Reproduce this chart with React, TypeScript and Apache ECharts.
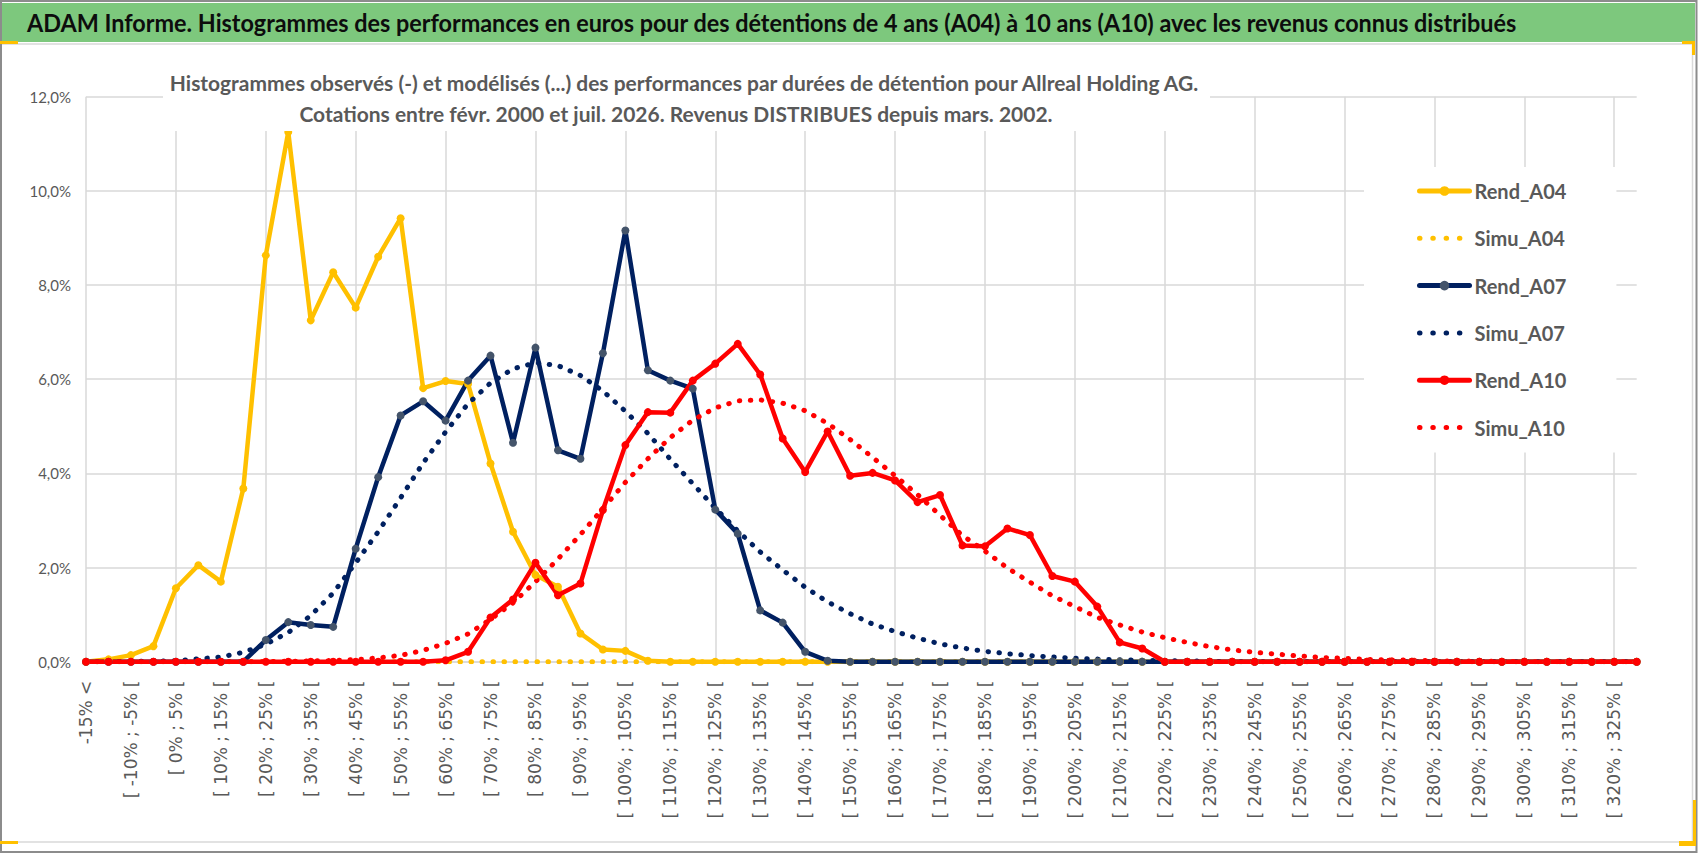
import { useEffect, useRef } from "react";
import * as echarts from "echarts";

const FONT_C = "Lato, 'Open Sans', sans-serif";
const FONT_AXIS = "'DejaVu Sans', sans-serif";

const categories = [
  "-15% <", "[ -15% ; -10% [", "[ -10% ; -5% [", "[ -5% ; 0% [", "[ 0% ; 5% [",
  "[ 5% ; 10% [", "[ 10% ; 15% [", "[ 15% ; 20% [", "[ 20% ; 25% [", "[ 25% ; 30% [",
  "[ 30% ; 35% [", "[ 35% ; 40% [", "[ 40% ; 45% [", "[ 45% ; 50% [", "[ 50% ; 55% [",
  "[ 55% ; 60% [", "[ 60% ; 65% [", "[ 65% ; 70% [", "[ 70% ; 75% [", "[ 75% ; 80% [",
  "[ 80% ; 85% [", "[ 85% ; 90% [", "[ 90% ; 95% [", "[ 95% ; 100% [", "[ 100% ; 105% [",
  "[ 105% ; 110% [", "[ 110% ; 115% [", "[ 115% ; 120% [", "[ 120% ; 125% [", "[ 125% ; 130% [",
  "[ 130% ; 135% [", "[ 135% ; 140% [", "[ 140% ; 145% [", "[ 145% ; 150% [", "[ 150% ; 155% [",
  "[ 155% ; 160% [", "[ 160% ; 165% [", "[ 165% ; 170% [", "[ 170% ; 175% [", "[ 175% ; 180% [",
  "[ 180% ; 185% [", "[ 185% ; 190% [", "[ 190% ; 195% [", "[ 195% ; 200% [", "[ 200% ; 205% [",
  "[ 205% ; 210% [", "[ 210% ; 215% [", "[ 215% ; 220% [", "[ 220% ; 225% [", "[ 225% ; 230% [",
  "[ 230% ; 235% [", "[ 235% ; 240% [", "[ 240% ; 245% [", "[ 245% ; 250% [", "[ 250% ; 255% [",
  "[ 255% ; 260% [", "[ 260% ; 265% [", "[ 265% ; 270% [", "[ 270% ; 275% [", "[ 275% ; 280% [",
  "[ 280% ; 285% [", "[ 285% ; 290% [", "[ 290% ; 295% [", "[ 295% ; 300% [", "[ 300% ; 305% [",
  "[ 305% ; 310% [", "[ 310% ; 315% [", "[ 315% ; 320% [", "[ 320% ; 325% [", "[ 325% ; 330% [",
];

// values in %
const rendA04 = [
  0, 0.05, 0.14, 0.33, 1.56, 2.05, 1.7, 3.68, 8.63, 11.25,
  7.25, 8.27, 7.52, 8.6, 9.42, 5.81, 5.96, 5.9, 4.21, 2.76,
  1.84, 1.59, 0.6, 0.26, 0.23, 0.02, 0, 0, 0, 0,
  0, 0, 0, 0, 0, 0, 0, 0, 0, 0,
  0, 0, 0, 0, 0, 0, 0, 0, 0, 0,
  0, 0, 0, 0, 0, 0, 0, 0, 0, 0,
  0, 0, 0, 0, 0, 0, 0, 0, 0, 0,
];
const simuA04 = [
  0, 0, 0, 0, 0, 0, 0, 0, 0, 0,
  0, 0, 0, 0, 0, 0, 0, 0, 0, 0,
  0, 0, 0, 0, 0, 0, 0, 0, 0, 0,
  0, 0, 0, 0, 0, 0, 0, 0, 0, 0,
  0, 0, 0, 0, 0, 0, 0, 0, 0, 0,
  0, 0, 0, 0, 0, 0, 0, 0, 0, 0,
  0, 0, 0, 0, 0, 0, 0, 0, 0, 0,
];
const rendA07 = [
  0, 0, 0, 0, 0, 0, 0, 0, 0.46, 0.84,
  0.78, 0.74, 2.4, 3.92, 5.23, 5.53, 5.12, 5.97, 6.5, 4.65,
  6.67, 4.49, 4.31, 6.55, 9.16, 6.19, 5.97, 5.8, 3.23, 2.72,
  1.09, 0.83, 0.21, 0.02, 0, 0, 0, 0, 0, 0,
  0, 0, 0, 0, 0, 0, 0, 0, 0, 0,
  0, 0, 0, 0, 0, 0, 0, 0, 0, 0,
  0, 0, 0, 0, 0, 0, 0, 0, 0, 0,
];
const simuA07 = [
  0, 0, 0.01, 0.01, 0.02, 0.06, 0.1, 0.2, 0.37, 0.62,
  0.98, 1.46, 2.1, 2.76, 3.48, 4.22, 4.88, 5.48, 5.92, 6.22,
  6.35, 6.29, 6.08, 5.75, 5.32, 4.85, 4.3, 3.78, 3.26, 2.78,
  2.33, 1.95, 1.58, 1.27, 1.02, 0.8, 0.64, 0.5, 0.38, 0.29,
  0.22, 0.17, 0.13, 0.1, 0.075, 0.055, 0.04, 0.03, 0.02, 0.015,
  0.01, 0, 0, 0, 0, 0, 0, 0, 0, 0,
  0, 0, 0, 0, 0, 0, 0, 0, 0, 0,
];
const rendA10 = [
  0, 0, 0, 0, 0, 0, 0, 0, 0, 0,
  0, 0, 0, 0, 0, 0, 0.03, 0.21, 0.94, 1.32,
  2.1, 1.41, 1.66, 3.22, 4.6, 5.3, 5.29, 5.97, 6.33, 6.75,
  6.1, 4.74, 4.03, 4.89, 3.95, 4.01, 3.85, 3.39, 3.54, 2.47,
  2.45, 2.83, 2.69, 1.82, 1.7, 1.17, 0.41, 0.28, 0, 0,
  0, 0, 0, 0, 0, 0, 0, 0, 0, 0,
  0, 0, 0, 0, 0, 0, 0, 0, 0, 0,
];
const simuA10 = [
  0, 0, 0, 0, 0, 0, 0, 0, 0, 0.01,
  0.015, 0.025, 0.045, 0.08, 0.135, 0.24, 0.39, 0.59, 0.9, 1.25,
  1.7, 2.18, 2.7, 3.25, 3.81, 4.31, 4.76, 5.13, 5.39, 5.54,
  5.56, 5.49, 5.33, 5.06, 4.72, 4.34, 3.95, 3.55, 3.11, 2.68,
  2.35, 1.99, 1.69, 1.4, 1.17, 0.94, 0.78, 0.63, 0.51, 0.41,
  0.32, 0.25, 0.2, 0.16, 0.12, 0.09, 0.07, 0.05, 0.04, 0.03,
  0.02, 0.015, 0.01, 0.01, 0, 0, 0, 0, 0, 0,
];

const yTicks = [0, 2, 4, 6, 8, 10, 12];

const YELLOW = "#FFC000";
const NAVY = "#002060";
const NAVY_MARK = "#44546A";
const RED = "#FF0000";

const titleText =
  "ADAM Informe. Histogrammes des performances en euros pour des détentions de 4 ans (A04) à 10 ans (A10) avec les revenus connus distribués";
const subLine1 =
  "Histogrammes observés (-) et modélisés (...) des performances par durées de détention pour Allreal Holding AG.";
const subLine2 = "Cotations entre févr. 2000 et juil. 2026. Revenus DISTRIBUES depuis mars. 2002.";

function textWidth(text: string, font: string) {
  const ctx = document.createElement("canvas").getContext("2d");
  if (!ctx) return 1;
  ctx.font = font;
  return ctx.measureText(text).width || 1;
}

function rend(name: string, data: number[], line: string, mark: string) {
  return {
    name,
    type: "line",
    data,
    symbol: "circle",
    symbolSize: 8,
    showAllSymbol: true,
    lineStyle: { width: 4.5, color: line, join: "round", cap: "round" },
    itemStyle: { color: mark },
  };
}

function simu(name: string, data: number[], color: string) {
  return {
    name,
    type: "line",
    data,
    symbol: "none",
    lineStyle: { width: 5, color, type: [0.5, 10.5], cap: "round" },
    itemStyle: { color },
  };
}

export default function App() {
  const chartRef = useRef<HTMLDivElement>(null);

  useEffect(() => {
    document.body.style.margin = "0";
    document.body.style.overflow = "hidden";
    if (!chartRef.current) return;
    const chart = echarts.init(chartRef.current, null, { renderer: "svg" });

    // squeeze the Calibri-like texts to the widths they have in the original
    const titleFont = `bold 24px ${FONT_C}`;
    const subFont = `bold 21px ${FONT_C}`;
    const titleScale = 1490 / textWidth(titleText, titleFont);
    const subScale = 1032 / textWidth(subLine1, subFont);

    const dotLegend = { width: 5, type: [0.5, 12.8], cap: "round" };

    chart.setOption({
      animation: false,
      backgroundColor: "#fff",
      graphic: [
        { type: "rect", shape: { x: 0, y: 3, width: 1695, height: 39 }, style: { fill: "#7dc87d" }, z: -10 },
        {
          type: "text",
          x: 27,
          y: 23,
          scaleX: titleScale,
          style: {
            text: titleText,
            font: titleFont,
            fill: "#0d0d0d",
            textAlign: "left",
            textVerticalAlign: "middle",
          },
          z: 20,
        },
        { type: "line", shape: { x1: 0, y1: 44, x2: 1693, y2: 44 }, style: { stroke: "#d9d9d9", lineWidth: 1.5 } },
        { type: "line", shape: { x1: 1692.5, y1: 44, x2: 1692.5, y2: 842 }, style: { stroke: "#d9d9d9", lineWidth: 1.5 } },
        { type: "line", shape: { x1: 0, y1: 842, x2: 1693, y2: 842 }, style: { stroke: "#d9d9d9", lineWidth: 1.5 } },
        { type: "rect", shape: { x: 1, y: 1, width: 1695.5, height: 851 }, style: { fill: "none", stroke: "#8c8c8c", lineWidth: 2 } },
        { type: "rect", shape: { x: 0, y: 41, width: 18, height: 3 }, style: { fill: YELLOW } },
        { type: "rect", shape: { x: 1682, y: 41, width: 13, height: 3 }, style: { fill: YELLOW } },
        { type: "rect", shape: { x: 1692, y: 41, width: 3, height: 14 }, style: { fill: YELLOW } },
        { type: "rect", shape: { x: 1693, y: 800, width: 3, height: 46 }, style: { fill: YELLOW } },
        { type: "rect", shape: { x: 1679, y: 841, width: 17, height: 5 }, style: { fill: YELLOW } },
        { type: "rect", shape: { x: 0, y: 841, width: 18, height: 3 }, style: { fill: YELLOW } },
        { type: "rect", shape: { x: 163, y: 60, width: 1047, height: 71 }, style: { fill: "#fff" }, z: 20 },
        {
          type: "text",
          x: 684,
          y: 82,
          scaleX: subScale,
          style: { text: subLine1, font: subFont, fill: "#595959", textAlign: "center", textVerticalAlign: "middle" },
          z: 21,
        },
        {
          type: "text",
          x: 676,
          y: 113,
          scaleX: subScale,
          style: { text: subLine2, font: subFont, fill: "#595959", textAlign: "center", textVerticalAlign: "middle" },
          z: 21,
        },
      ],
      legend: {
        orient: "vertical",
        left: 1364,
        top: 167,
        padding: [13, 50, 14, 53],
        backgroundColor: "#fff",
        itemWidth: 50,
        itemHeight: 12,
        itemGap: 25.3,
        selectedMode: false,
        textStyle: { fontFamily: FONT_C, fontSize: 20, fontWeight: "bold", color: "#595959", lineHeight: 22 },
        data: [
          { name: "Rend_A04", lineStyle: { width: 5 } },
          { name: "Simu_A04", itemStyle: { opacity: 0 }, lineStyle: dotLegend },
          { name: "Rend_A07", lineStyle: { width: 5 } },
          { name: "Simu_A07", itemStyle: { opacity: 0 }, lineStyle: dotLegend },
          { name: "Rend_A10", lineStyle: { width: 5 } },
          { name: "Simu_A10", itemStyle: { opacity: 0 }, lineStyle: dotLegend },
        ],
      },
      grid: {
        left: 86,
        right: 61.3,
        top: 96.7,
        bottom: 192.3,
        containLabel: false,
        outerBoundsMode: "none",
      },
      xAxis: {
        type: "category",
        data: categories,
        boundaryGap: false,
        axisLine: { lineStyle: { color: "#d9d9d9", width: 1.5 } },
        axisTick: { show: false },
        axisLabel: {
          interval: 1,
          rotate: 90,
          margin: 19,
          color: "#595959",
          fontSize: 17,
          fontFamily: FONT_AXIS,
        },
        splitLine: {
          show: true,
          interval: (i: number) => i % 4 === 0,
          lineStyle: { color: "#d9d9d9", width: 1.5 },
        },
      },
      yAxis: {
        type: "value",
        min: yTicks[0],
        max: yTicks[yTicks.length - 1],
        interval: yTicks[1] - yTicks[0],
        axisLine: { show: false },
        axisTick: { show: false },
        axisLabel: {
          margin: 15,
          color: "#595959",
          fontSize: 15,
          fontFamily: FONT_C,
          formatter: (v: number) => `${v.toFixed(1).replace(".", ",")}%`,
        },
        splitLine: { lineStyle: { color: "#d9d9d9", width: 1.5 } },
      },
      series: [
        rend("Rend_A04", rendA04, YELLOW, YELLOW),
        simu("Simu_A04", simuA04, YELLOW),
        rend("Rend_A07", rendA07, NAVY, NAVY_MARK),
        simu("Simu_A07", simuA07, NAVY),
        rend("Rend_A10", rendA10, RED, RED),
        simu("Simu_A10", simuA10, RED),
      ],
    });

    return () => {
      chart.dispose();
    };
  }, []);

  return <div ref={chartRef} style={{ width: 1698, height: 854 }} />;
}
